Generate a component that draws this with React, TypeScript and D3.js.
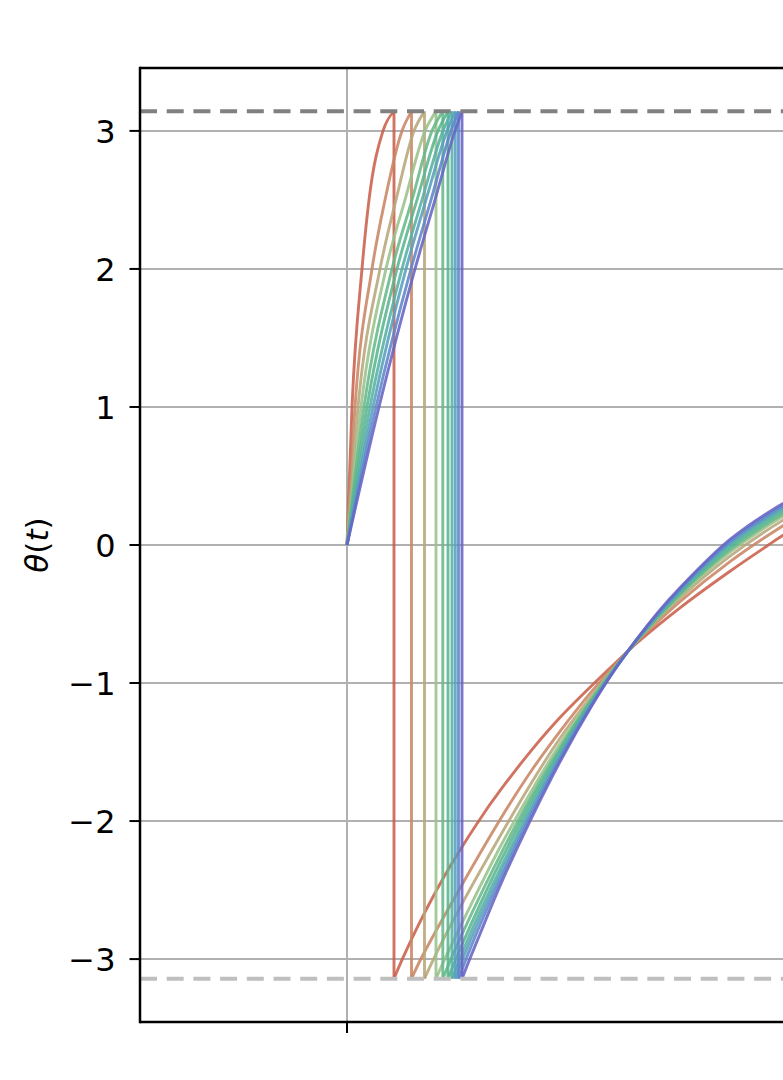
import React from 'react';
import * as d3 from 'd3';

const W = 783;
const H = 1080;

// theta levels reached during the first rise (0 -> pi)
const riseLevels = [0, 1, 2, 2.5, 3, Math.PI];

// time at which each curve reaches each rise level
const riseTimes: number[][] = [
  [0, 0.05, 0.15, 0.22, 0.36, 0.47],
  [0, 0.08, 0.25, 0.38, 0.55, 0.645],
  [0, 0.11, 0.33, 0.49, 0.67, 0.775],
  [0, 0.14, 0.39, 0.58, 0.78, 0.89],
  [0, 0.17, 0.45, 0.65, 0.85, 0.958],
  [0, 0.2, 0.5, 0.7, 0.91, 1.01],
  [0, 0.23, 0.55, 0.75, 0.96, 1.05],
  [0, 0.26, 0.59, 0.79, 1.0, 1.083],
  [0, 0.29, 0.64, 0.84, 1.04, 1.115],
  [0, 0.32, 0.68, 0.88, 1.08, 1.15],
];

// after wrapping to -pi
const postTimes: number[][] = [
  [0.47, 0.56, 0.73, 1.03, 1.41, 1.53, 1.83, 2.13, 2.46, 2.9, 3.33, 3.83, 4.2, 4.36, 4.5],
  [0.645, 0.745, 1.08, 1.53, 1.83, 2.13, 2.46, 2.9, 3.33, 3.83, 4.36, 4.5],
  [0.775, 0.875, 1.15, 1.53, 1.83, 2.13, 2.46, 2.9, 3.33, 3.83, 4.36, 4.5],
  [0.89, 0.99, 1.21, 1.53, 1.83, 2.13, 2.46, 2.9, 3.33, 3.83, 4.36, 4.5],
  [0.958, 1.058, 1.24, 1.53, 1.83, 2.13, 2.46, 2.9, 3.33, 3.83, 4.36, 4.5],
  [1.01, 1.11, 1.27, 1.53, 1.83, 2.13, 2.46, 2.9, 3.33, 3.83, 4.36, 4.5],
  [1.05, 1.15, 1.29, 1.53, 1.83, 2.13, 2.46, 2.9, 3.33, 3.83, 4.36, 4.5],
  [1.083, 1.18, 1.31, 1.53, 1.83, 2.13, 2.46, 2.9, 3.33, 3.83, 4.36, 4.5],
  [1.115, 1.21, 1.32, 1.53, 1.83, 2.13, 2.46, 2.9, 3.33, 3.83, 4.36, 4.5],
  [1.15, 1.23, 1.34, 1.53, 1.83, 2.13, 2.46, 2.68, 2.9, 3.13, 3.33, 3.83, 4.36, 4.5],
];

const postTheta: number[][] = [
  [-Math.PI, -2.99, -2.73, -2.33, -1.9, -1.78, -1.5, -1.25, -1.01, -0.71, -0.455, -0.19, -0.007, 0.07, 0.13],
  [-Math.PI, -2.99, -2.55, -1.99, -1.65, -1.35, -1.05, -0.7, -0.41, -0.12, 0.14, 0.2],
  [-Math.PI, -2.985, -2.6, -2.11, -1.74, -1.4, -1.08, -0.696, -0.385, -0.08, 0.18, 0.236],
  [-Math.PI, -2.98, -2.65, -2.19, -1.8, -1.44, -1.094, -0.692, -0.368, -0.052, 0.208, 0.262],
  [-Math.PI, -2.97, -2.68, -2.25, -1.84, -1.47, -1.105, -0.69, -0.356, -0.034, 0.226, 0.28],
  [-Math.PI, -2.965, -2.7, -2.3, -1.875, -1.49, -1.115, -0.688, -0.346, -0.018, 0.243, 0.295],
  [-Math.PI, -2.96, -2.72, -2.35, -1.91, -1.51, -1.125, -0.685, -0.336, -0.001, 0.259, 0.31],
  [-Math.PI, -2.96, -2.735, -2.39, -1.94, -1.53, -1.133, -0.684, -0.327, 0.012, 0.272, 0.324],
  [-Math.PI, -2.965, -2.77, -2.43, -1.97, -1.55, -1.142, -0.682, -0.319, 0.026, 0.286, 0.337],
  [-Math.PI, -2.995, -2.8, -2.47, -2.0, -1.57, -1.15, -0.9, -0.68, -0.47, -0.31, 0.04, 0.3, 0.35],
];

const curveColors = [
  '#c9604b', '#ca8564', '#b8a67a', '#98c28b', '#66b887',
  '#58b58e', '#55b2a3', '#569fbe', '#5f86c9', '#6664c4',
];

const yTicks = [-3, -2, -1, 0, 1, 2, 3];
const xTicks = [0, 5];

export default function App() {
  const x = d3.scaleLinear().domain([-2.07, 5.0]).range([140, 847]);
  const y = d3.scaleLinear().domain([-1.1 * Math.PI, 1.1 * Math.PI]).range([1022, 68]);
  const left = x(-2.07);
  const right = x(5.0);
  const top = y(1.1 * Math.PI);
  const bottom = y(-1.1 * Math.PI);

  const riseLine = d3
    .line<[number, number]>()
    .x((d) => x(d[0]))
    .y((d) => y(d[1]))
    .curve(d3.curveMonotoneX);

  const postLine = d3
    .line<[number, number]>()
    .x((d) => x(d[0]))
    .y((d) => y(d[1]))
    .curve(d3.curveCatmullRom.alpha(0.5));

  const fmt = (v: number) => (v < 0 ? '\u2212' + Math.abs(v) : String(v));
  const font = "'DejaVu Sans', sans-serif";

  return (
    <svg
      width={W}
      height={H}
      style={{ position: 'absolute', left: 0, top: 0, background: '#fff', overflow: 'hidden' }}
    >
      <defs>
        <clipPath id="plotclip">
          <rect x={left} y={top} width={right - left} height={bottom - top} />
        </clipPath>
      </defs>
      <rect x={0} y={0} width={W} height={H} fill="#fff" />
      {/* grid */}
      <g stroke="#b0b0b0" strokeWidth={2}>
        {yTicks.map((t) => (
          <line key={'gy' + t} x1={left} x2={right} y1={y(t)} y2={y(t)} />
        ))}
        {xTicks.map((t) => (
          <line key={'gx' + t} x1={x(t)} x2={x(t)} y1={top} y2={bottom} />
        ))}
      </g>
      {/* curves */}
      <g clipPath="url(#plotclip)" fill="none" strokeWidth={2.9} strokeOpacity={0.88}>
        {riseTimes.map((rt, i) => {
          const rise: [number, number][] = rt.map((t, k) => [t, riseLevels[k]]);
          const post: [number, number][] = postTimes[i].map((t, k) => [t, postTheta[i][k]]);
          const w = rt[rt.length - 1];
          return (
            <g key={'c' + i} stroke={curveColors[i]}>
              <path d={riseLine(rise) || ''} />
              <line x1={x(w)} x2={x(postTimes[i][0])} y1={y(Math.PI)} y2={y(-Math.PI)} />
              <path d={postLine(post) || ''} />
            </g>
          );
        })}
      </g>
      {/* pi lines */}
      <line x1={left} x2={right} y1={y(Math.PI)} y2={y(Math.PI)} stroke="#808080" strokeWidth={4} strokeDasharray="17 9.7" />
      <line x1={left} x2={right} y1={y(-Math.PI)} y2={y(-Math.PI)} stroke="#bfbfbf" strokeWidth={4} strokeDasharray="17 9.7" />
      {/* spines */}
      <g stroke="#000" strokeWidth={2.5}>
        <line x1={left} x2={left} y1={top - 1.25} y2={bottom + 1.25} />
        <line x1={left} x2={right} y1={top} y2={top} />
        <line x1={left} x2={right} y1={bottom} y2={bottom} />
      </g>
      {/* ticks */}
      <g>
        {yTicks.map((t) => (
          <g key={'yt' + t}>
            <line x1={left - 10.5} x2={left} y1={y(t)} y2={y(t)} stroke="#000" strokeWidth={2} />
            <text x={115.5} y={y(t) + 11.7} textAnchor="end" fontFamily={font} fontSize={32} fill="#000">
              {fmt(t)}
            </text>
          </g>
        ))}
        {xTicks.map((t) => (
          <line key={'xt' + t} x1={x(t)} x2={x(t)} y1={bottom} y2={bottom + 11} stroke="#000" strokeWidth={2} />
        ))}
      </g>
      {/* y label */}
      <text transform="translate(47.5,545) rotate(-90)" textAnchor="middle" fontFamily={font} fontSize={31} fill="#000">
        <tspan fontStyle="italic">θ</tspan>(<tspan fontStyle="italic">t</tspan>)
      </text>
    </svg>
  );
}
